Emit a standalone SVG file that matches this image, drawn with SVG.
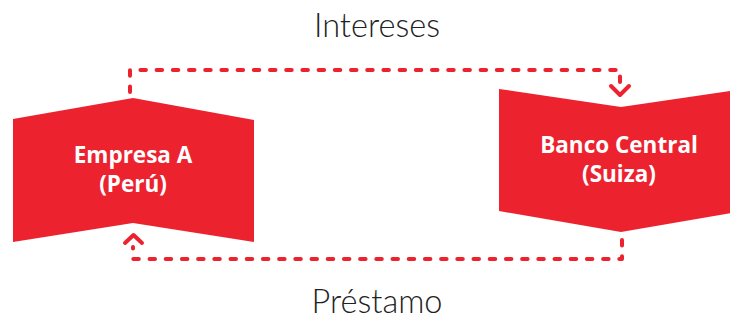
<svg xmlns="http://www.w3.org/2000/svg" width="730" height="320" viewBox="0 0 730 320">
  <style>
    .box { fill: #ED222F; }
    .name { font-family: "Open Sans", "Liberation Sans", sans-serif; font-weight: 700; font-size: 22.5px; fill: #ffffff; text-anchor: middle; }
    .flow { fill: none; stroke: #ED222F; stroke-width: 4; stroke-linecap: round; stroke-linejoin: round; }
    .dash { stroke-dasharray: 5.5 10.7; }
    .label { font-family: "Lato", "Open Sans", "Liberation Sans", sans-serif; font-weight: 300; font-size: 32.5px; fill: #222222; text-anchor: middle; }
  </style>

  <g id="connectors">
    <!-- interest: Empresa A to Banco Central -->
    <path class="flow dash" d="M130 92 V70 H620 V90"/>
    <path class="flow" d="M611 86 L620 95 L629 86"/>
    <!-- loan: Banco Central to Empresa A -->
    <path class="flow dash" d="M622 240 V259 H133 V247"/>
    <path class="flow" d="M125 243 L133.5 235 L142 243"/>
  </g>

  <g id="empresa-a">
    <polygon class="box" points="13,119 133,98 254,120 254,242 133,223 13,242"/>
    <text class="name" x="133" y="163">Empresa A</text>
    <text class="name" x="133" y="192">(Perú)</text>
  </g>

  <g id="banco-central">
    <polygon class="box" points="499,89 621,107 743,89 743,211 621,232 499,211"/>
    <text class="name" x="619" y="153">Banco Central</text>
    <text class="name" x="619" y="182">(Suiza)</text>
  </g>

  <text id="intereses" class="label" x="377" y="37">Intereses</text>
  <text id="prestamo" class="label" x="377" y="313">Préstamo</text>
</svg>
